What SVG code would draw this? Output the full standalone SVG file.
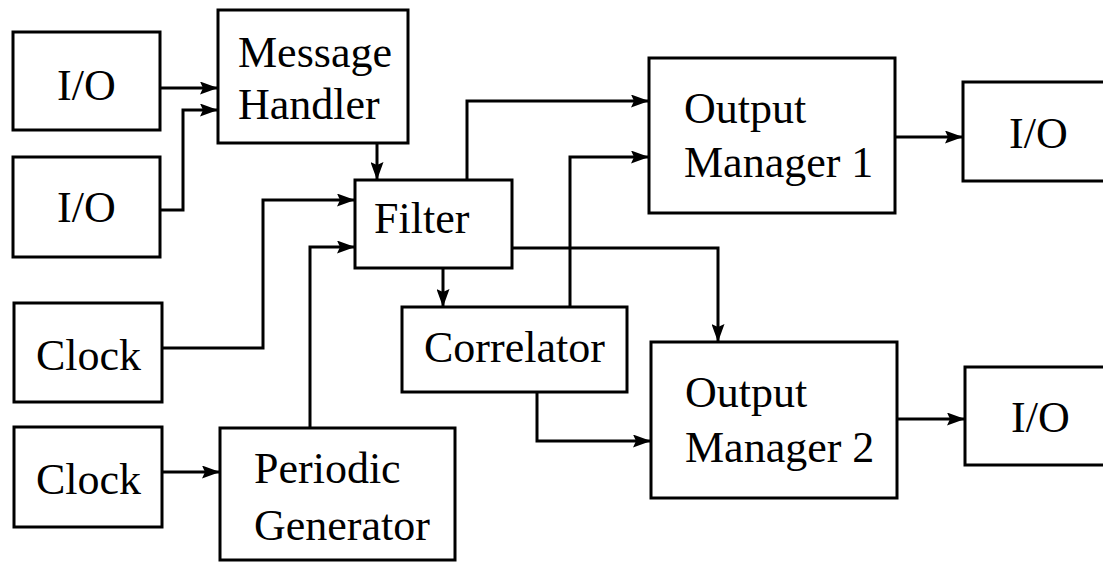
<svg xmlns="http://www.w3.org/2000/svg" width="1103" height="563" viewBox="0 0 1103 563">
<defs>
<marker id="ah" viewBox="0 0 18 13" refX="18" refY="6.5" markerWidth="18" markerHeight="13" markerUnits="userSpaceOnUse" orient="auto">
<path d="M0,0 L18,6.5 L0,13 L3,6.5 Z" fill="#000"/>
</marker>
<style>
.box{fill:#fff;stroke:#000;stroke-width:3}
.c{fill:none;stroke:#000;stroke-width:3}
.a{marker-end:url(#ah)}
</style>
</defs>
<rect width="1103" height="563" fill="#fff"/>
<g id="connectors">
<path class="c a" d="M160,88 H218"/>
<path class="c a" d="M160,210 H183 V110 H218"/>
<path class="c a" d="M377,143 V180"/>
<path class="c a" d="M162,348 H263 V200 H355"/>
<path class="c a" d="M310,428 V247 H355"/>
<path class="c a" d="M162,472 H220"/>
<path class="c a" d="M443,268 V307"/>
<path class="c a" d="M467,180 V101 H649"/>
<path class="c a" d="M570,307 V157 H649"/>
<path class="c a" d="M512,248 H718 V342"/>
<path class="c a" d="M537,392 V441 H651"/>
<path class="c a" d="M895,137 H963"/>
<path class="c a" d="M897,419 H965"/>
</g>
<g font-family="Liberation Serif, Times New Roman, DejaVu Serif, serif" font-size="44" fill="#000">
<g id="io1"><rect class="box" x="13" y="32" width="147" height="98"/><text x="57" y="100">I/O</text></g>
<g id="io2"><rect class="box" x="13" y="157" width="147" height="100"/><text x="57" y="222">I/O</text></g>
<g id="message-handler"><rect class="box" x="218" y="10" width="190" height="133"/><text x="238" y="67">Message</text><text x="238" y="119">Handler</text></g>
<g id="filter"><rect class="box" x="355" y="180" width="157" height="88"/><text x="374" y="233">Filter</text></g>
<g id="clock1"><rect class="box" x="14" y="303" width="148" height="99"/><text x="36" y="370">Clock</text></g>
<g id="clock2"><rect class="box" x="14" y="427" width="148" height="100"/><text x="36" y="494">Clock</text></g>
<g id="periodic-generator"><rect class="box" x="220" y="428" width="235" height="132"/><text x="254" y="483">Periodic</text><text x="254" y="540">Generator</text></g>
<g id="correlator"><rect class="box" x="402" y="307" width="225" height="85"/><text x="424" y="362">Correlator</text></g>
<g id="output-manager-1"><rect class="box" x="649" y="58" width="246" height="155"/><text x="684" y="123">Output</text><text x="684" y="177">Manager 1</text></g>
<g id="output-manager-2"><rect class="box" x="651" y="342" width="246" height="156"/><text x="685" y="407">Output</text><text x="685" y="462">Manager 2</text></g>
<g id="io3"><rect class="box" x="963" y="82" width="150" height="99"/><text x="1009" y="148">I/O</text></g>
<g id="io4"><rect class="box" x="965" y="367" width="150" height="98"/><text x="1011" y="432">I/O</text></g>
</g>
</svg>
